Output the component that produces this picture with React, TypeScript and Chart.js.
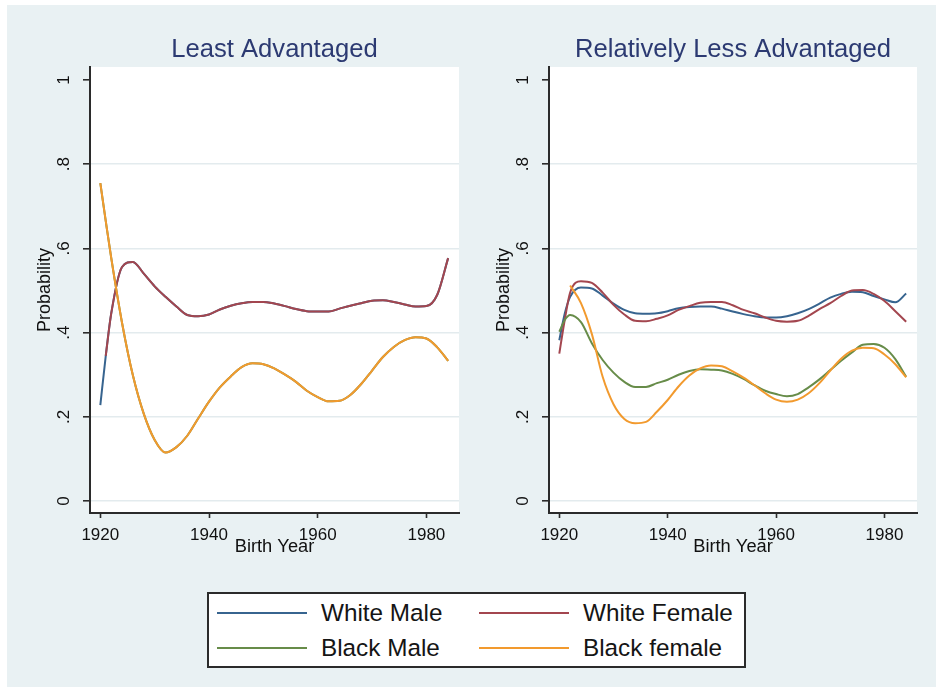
import { useEffect, useRef } from 'react';
import { Chart, registerables } from 'chart.js';

Chart.register(...registerables);

const FONT = "'Liberation Sans', Arial, Helvetica, sans-serif";

// Birth-year grid on which the smoothed probabilities are sampled
const years = [
  1920, 1921, 1922, 1924, 1926, 1928, 1930, 1932, 1934, 1936, 1938, 1940,
  1942, 1944, 1946, 1948, 1950, 1952, 1954, 1956, 1958, 1960, 1962, 1964,
  1966, 1968, 1970, 1972, 1974, 1976, 1978, 1980, 1982, 1984,
];

const yTickValues = [0, 0.2, 0.4, 0.6, 0.8, 1];
const yTickLabels = ['0', '.2', '.4', '.6', '.8', '1'];
const xTickValues = [1920, 1940, 1960, 1980];

const seriesNames = ['White Male', 'White Female', 'Black Male', 'Black female'];
const seriesColors = ['#37648f', '#a3464f', '#678c49', '#f29a2e'];

// Least Advantaged
const leastWhiteMale = [
  0.228, 0.345, 0.445, 0.556, 0.568, 0.54, 0.51, 0.485, 0.462, 0.442, 0.439, 0.443,
  0.455, 0.464, 0.47, 0.473, 0.473, 0.469, 0.463, 0.456, 0.451, 0.45, 0.45, 0.457,
  0.464, 0.47, 0.476, 0.477, 0.473, 0.467, 0.462, 0.463, 0.49, 0.577,
];
const leastWhiteFemale = [
  null, 0.345, 0.445, 0.556, 0.568, 0.54, 0.51, 0.485, 0.462, 0.442, 0.439, 0.443,
  0.455, 0.464, 0.47, 0.473, 0.473, 0.469, 0.463, 0.456, 0.451, 0.45, 0.45, 0.457,
  0.464, 0.47, 0.476, 0.477, 0.473, 0.467, 0.462, 0.463, 0.49, 0.577,
];
const leastBlackMale = [
  0.755, 0.665, 0.578, 0.423, 0.298, 0.207, 0.145, 0.115, 0.128, 0.155, 0.196, 0.236,
  0.27, 0.296, 0.318, 0.327, 0.325, 0.315, 0.3, 0.283, 0.262, 0.247, 0.237, 0.238,
  0.252, 0.278, 0.31, 0.342, 0.366, 0.382, 0.389, 0.386, 0.365, 0.333,
];
const leastBlackFemale = [
  0.755, 0.665, 0.578, 0.423, 0.298, 0.207, 0.145, 0.115, 0.128, 0.155, 0.196, 0.236,
  0.27, 0.296, 0.318, 0.327, 0.325, 0.315, 0.3, 0.283, 0.262, 0.247, 0.237, 0.238,
  0.252, 0.278, 0.31, 0.342, 0.366, 0.382, 0.389, 0.386, 0.365, 0.333,
];

// Relatively Less Advantaged
const lessWhiteMale = [
  0.382, 0.445, 0.485, 0.507, 0.505, 0.488, 0.469, 0.454, 0.446, 0.445, 0.446, 0.451,
  0.458, 0.461, 0.462, 0.462, 0.457, 0.45, 0.444, 0.439, 0.436, 0.436, 0.439, 0.446,
  0.456, 0.469, 0.483, 0.492, 0.497, 0.496, 0.487, 0.479, 0.472, 0.493,
];
const lessWhiteFemale = [
  0.35, 0.43, 0.495, 0.522, 0.518, 0.495, 0.466, 0.443, 0.428, 0.427, 0.433, 0.441,
  0.454, 0.463, 0.471, 0.473, 0.473, 0.465, 0.454, 0.446, 0.436, 0.428, 0.426, 0.428,
  0.44, 0.456, 0.47, 0.487, 0.5, 0.501, 0.492, 0.475, 0.451, 0.426,
];
const lessBlackMale = [
  0.402, 0.43, 0.442, 0.425, 0.375, 0.335, 0.305, 0.283, 0.271, 0.271, 0.28, 0.288,
  0.3, 0.309, 0.313, 0.312, 0.31, 0.302, 0.29, 0.275, 0.262, 0.254, 0.249, 0.254,
  0.27, 0.289, 0.311, 0.333, 0.353, 0.371, 0.373, 0.364, 0.337, 0.295,
];
const lessBlackFemale = [
  null, null, 0.512, 0.47, 0.397, 0.295, 0.23, 0.195, 0.185, 0.188, 0.212, 0.24,
  0.272, 0.298, 0.315, 0.322, 0.32, 0.308, 0.293, 0.275, 0.256, 0.241, 0.236, 0.241,
  0.256, 0.28, 0.31, 0.338, 0.357, 0.364, 0.363, 0.348, 0.325, 0.294,
];

const AXIS_COLOR = '#2b2b2b';
const GRID_COLOR = '#e3ebee';
const PAGE_BG = '#e9f1f3';

const plotBackground = {
  id: 'plotBackground',
  beforeDraw(chart: any) {
    const { ctx, chartArea: a } = chart;
    ctx.save();
    ctx.fillStyle = '#ffffff';
    ctx.fillRect(a.left, a.top, a.right - a.left, a.bottom - a.top);
    ctx.restore();
  },
};

type PanelProps = {
  title: string;
  series: (number | null)[][];
  left: number;
  width: number;
  padRight: number;
};

const CANVAS_H = 560;

function Panel({ title, series, left, width, padRight }: PanelProps) {
  const ref = useRef<HTMLCanvasElement>(null);

  useEffect(() => {
    if (!ref.current) return;
    const datasets = series.map((vals, i) => ({
      label: seriesNames[i],
      data: years.map((x, j) => ({ x, y: vals[j] })),
      borderColor: seriesColors[i],
      backgroundColor: seriesColors[i],
      borderWidth: 2,
      pointRadius: 0,
      pointHoverRadius: 0,
      fill: false,
      cubicInterpolationMode: 'monotone' as const,
      order: series.length - i,
    }));

    const chart = new Chart(ref.current, {
      type: 'line',
      data: { datasets },
      plugins: [plotBackground],
      options: {
        animation: false,
        responsive: false,
        events: [],
        layout: { padding: { left: 0, right: padRight, top: 0, bottom: 7 } },
        plugins: {
          legend: { display: false },
          tooltip: { enabled: false },
          title: {
            display: true,
            text: title,
            fullSize: false,
            color: '#2c3a72',
            font: { family: FONT, size: 25.6, weight: 'normal', lineHeight: 1.2 },
            padding: { top: 30, bottom: 1.3 },
          },
        },
        scales: {
          x: {
            type: 'linear',
            min: 1918.1,
            max: 1986,
            afterBuildTicks: (scale: any) => {
              scale.ticks = xTickValues.map((value) => ({ value }));
            },
            afterFit: (scale: any) => {
              scale.height = 45;
            },
            ticks: {
              color: '#111',
              font: { family: FONT, size: 17, lineHeight: 1.2 },
              padding: 7,
              maxRotation: 0,
              autoSkip: false,
              callback: (v: any) => String(v),
            },
            grid: {
              drawOnChartArea: false,
              drawTicks: true,
              tickLength: 5,
              tickColor: AXIS_COLOR,
              tickWidth: 1.6,
            },
            border: { display: true, color: AXIS_COLOR, width: 2 },
            title: {
              display: true,
              text: 'Birth Year',
              color: '#111',
              font: { family: FONT, size: 18.3, lineHeight: 1.2 },
              padding: { top: 0, bottom: 0 },
            },
          },
          y: {
            type: 'linear',
            min: -0.0285,
            max: 1.031,
            afterBuildTicks: (scale: any) => {
              scale.ticks = yTickValues.map((value) => ({ value }));
            },
            afterFit: (scale: any) => {
              scale.width = 83;
            },
            ticks: {
              color: '#111',
              font: { family: FONT, size: 17, lineHeight: 1.2 },
              padding: 12,
              minRotation: 90,
              maxRotation: 90,
              crossAlign: 'center',
              autoSkip: false,
              callback: (_v: any, i: number) => yTickLabels[i],
            },
            grid: {
              drawOnChartArea: true,
              drawTicks: true,
              tickLength: 7,
              color: (ctx: any) => (ctx.tick && ctx.tick.value === 1 ? 'rgba(0,0,0,0)' : GRID_COLOR),
              lineWidth: 1.6,
              tickColor: AXIS_COLOR,
              tickWidth: 1.6,
            },
            border: { display: true, color: AXIS_COLOR, width: 2 },
            title: {
              display: true,
              text: 'Probability',
              color: '#111',
              font: { family: FONT, size: 18, lineHeight: 1.2 },
              padding: { top: 27, bottom: 0 },
            },
          },
        },
      },
    } as any);

    return () => chart.destroy();
  }, []);

  return (
    <canvas
      ref={ref}
      width={width}
      height={CANVAS_H}
      style={{ position: 'absolute', left, top: 5, width, height: CANVAS_H }}
    />
  );
}

function Legend() {
  const rows = [19, 54];
  const cols = [
    { line: 8, text: 112 },
    { line: 270, text: 374 },
  ];
  return (
    <div
      style={{
        position: 'absolute',
        left: 207,
        top: 592,
        width: 539,
        height: 76,
        boxSizing: 'border-box',
        border: `2px solid ${AXIS_COLOR}`,
        background: '#fff',
      }}
    >
      {seriesNames.map((name, i) => {
        const r = rows[Math.floor(i / 2)];
        const c = cols[i % 2];
        return (
          <div key={name}>
            <div
              style={{
                position: 'absolute',
                left: c.line,
                top: r - 1,
                width: 90,
                height: 2,
                background: seriesColors[i],
              }}
            />
            <div
              style={{
                position: 'absolute',
                left: c.text,
                top: r - 14,
                height: 28,
                lineHeight: '28px',
                fontFamily: FONT,
                fontSize: 24.3,
                color: '#151515',
                whiteSpace: 'nowrap',
              }}
            >
              {name}
            </div>
          </div>
        );
      })}
    </div>
  );
}

export default function App() {
  return (
    <div
      style={{
        position: 'absolute',
        left: 0,
        top: 0,
        width: 936,
        height: 687,
        background: '#fff',
        overflow: 'hidden',
      }}
    >
      <div
        style={{
          position: 'absolute',
          left: 7,
          top: 5,
          width: 929,
          height: 682,
          background: PAGE_BG,
        }}
      />
      <Panel
        title="Least Advantaged"
        series={[leastWhiteMale, leastWhiteFemale, leastBlackMale, leastBlackFemale]}
        left={7}
        width={459}
        padRight={7}
      />
      <Panel
        title="Relatively Less Advantaged"
        series={[lessWhiteMale, lessWhiteFemale, lessBlackMale, lessBlackFemale]}
        left={466}
        width={470}
        padRight={19}
      />
      <Legend />
    </div>
  );
}
